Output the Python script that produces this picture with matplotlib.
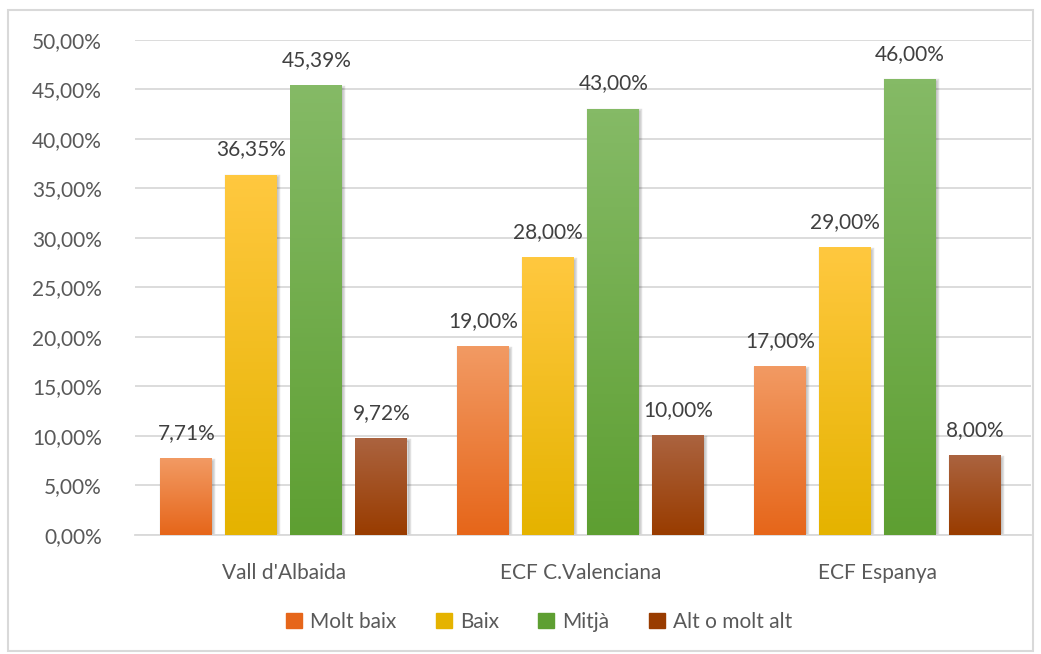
import numpy as np
import matplotlib.pyplot as plt
from matplotlib.colors import LinearSegmentedColormap
from matplotlib.patches import Rectangle
from matplotlib.ticker import FuncFormatter

plt.rcParams['font.family'] = ['Lato', 'DejaVu Sans']

# data
categories = ["Vall d'Albaida", "ECF C.Valenciana", "ECF Espanya"]
series = ["Molt baix", "Baix", "Mitjà", "Alt o molt alt"]
molt_baix = [7.71, 19.00, 17.00]
baix = [36.35, 28.00, 29.00]
mitja = [45.39, 43.00, 46.00]
alt = [9.72, 10.00, 8.00]
values = [molt_baix, baix, mitja, alt]

# gradient colours (top, bottom)
grads = [('#F29A63', '#E6661A'),
         ('#FFC83F', '#E5B300'),
         ('#85BA66', '#5E9F32'),
         ('#AB633F', '#993C00')]

text_col = '#595959'
fs = 15

fig = plt.figure(figsize=(10.41, 6.54), dpi=100)
ax = fig.add_axes([0.130, 0.182, 0.860, 0.757])

x = np.arange(len(categories))
width = 0.175
step = 0.219
offsets = (np.arange(len(series)) - 1.5) * step

for i, (name, vals) in enumerate(zip(series, values)):
    top, bot = grads[i]
    cmap = LinearSegmentedColormap.from_list(name, [bot, top])
    bars = ax.bar(x + offsets[i], vals, width, color=bot, label=name, zorder=3)
    for b, v in zip(bars, vals):
        b.set_facecolor('none')
        b.set_edgecolor('none')
        x0, y0 = b.get_x(), b.get_y()
        w, h = b.get_width(), b.get_height()
        # soft shadow
        ax.add_patch(Rectangle((x0 + 0.004, y0), w, h - 0.1, color='#000000',
                               alpha=0.12, zorder=2, lw=2.5, ec='#00000010'))
        grad = np.linspace(0, 1, 100).reshape(-1, 1)
        ax.imshow(grad, extent=[x0, x0 + w, y0, y0 + h], origin='lower',
                  cmap=cmap, aspect='auto', zorder=3)
        ax.text(x0 + w / 2, v + 1.6, f'{v:.2f}%'.replace('.', ','),
                ha='center', va='bottom', fontsize=fs, color='#404040')

ax.set_xlim(-0.5, 2.515)
ax.set_ylim(0, 50)
ax.set_yticks(np.arange(0, 51, 5))
ax.yaxis.set_major_formatter(FuncFormatter(lambda v, p: f'{v:.2f}%'.replace('.', ',')))
ax.set_xticks(x)
ax.set_xticklabels(categories)
ax.tick_params(axis='both', length=0, labelsize=fs, labelcolor=text_col)
ax.tick_params(axis='x', pad=20)
ax.tick_params(axis='y', pad=24)
ax.grid(axis='y', color='#D9D9D9', lw=1.3, zorder=0)
for s in ['top', 'right', 'left']:
    ax.spines[s].set_visible(False)
ax.spines['bottom'].set_color('#D9D9D9')
ax.spines['bottom'].set_linewidth(1.3)

handles = [Rectangle((0, 0), 1, 1, color=grads[i][1]) for i in range(4)]
fig.legend(handles, series, loc='center', bbox_to_anchor=(0.518, 0.049), ncol=4,
           frameon=False, fontsize=fs, labelcolor=text_col, handlelength=0.75,
           handleheight=0.75, handletextpad=0.4, columnspacing=1.9)

# outer border
fig.patches.append(Rectangle((0.008, 0.005), 0.984, 0.98, transform=fig.transFigure,
                             fill=False, ec='#D9D9D9', lw=1.5))

fig.savefig('out.png', dpi=100)
